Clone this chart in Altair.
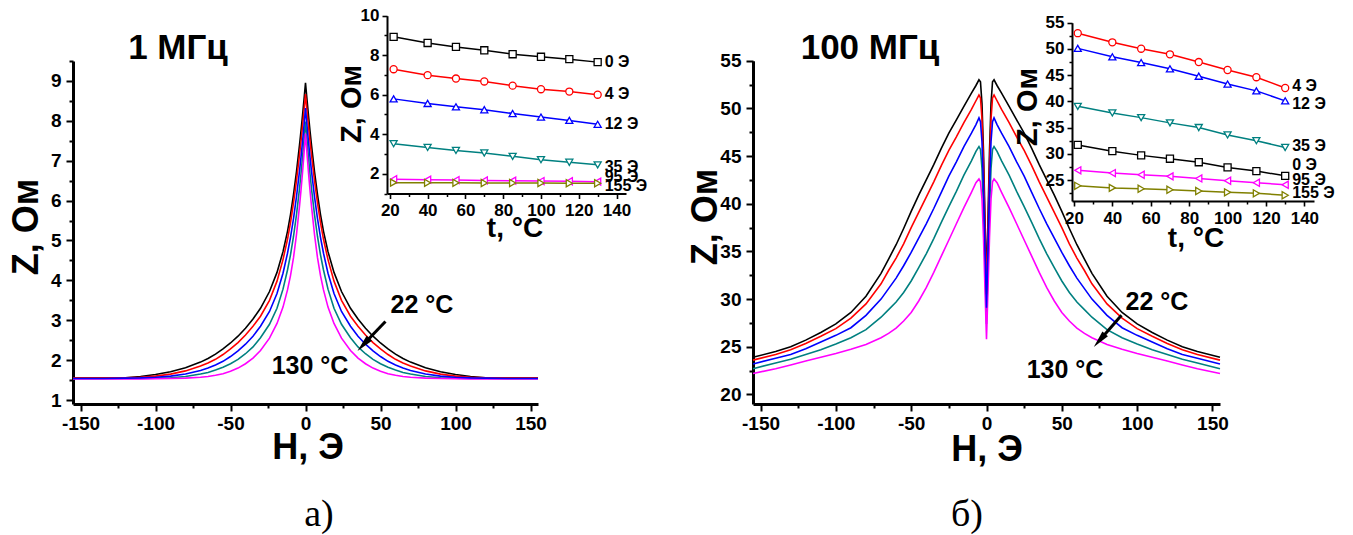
import altair as alt
import pandas as pd

# ---------------- DATA ----------------
TEMPS = ["22 °C", "40 °C", "70 °C", "100 °C", "130 °C"]
TEMP_COLORS = ["#000000", "#ff0000", "#0000ff", "#008080", "#ff00ff"]

# 1 MHz: Z (Ohm) vs H (Oe); right branch values, curves symmetric in H
H_1MHZ = [0, 1, 2, 3, 4, 6, 8, 10, 12, 15, 19, 24, 30, 35, 40, 45, 50, 55, 60, 65, 70, 80, 90, 100, 110, 120, 135, 155]
Z_1MHZ = {
    "22 °C": [8.95, 8.53, 8.13, 7.75, 7.39, 6.73, 6.15, 5.65, 5.23, 4.72, 4.2, 3.72, 3.3, 3.03, 2.8, 2.6, 2.43, 2.28, 2.15, 2.04, 1.95, 1.81, 1.71, 1.64, 1.59, 1.56, 1.55, 1.55],
    "40 °C": [8.67, 8.25, 7.86, 7.49, 7.14, 6.5, 5.94, 5.45, 5.03, 4.52, 3.98, 3.5, 3.1, 2.85, 2.63, 2.44, 2.28, 2.14, 2.02, 1.93, 1.85, 1.73, 1.65, 1.6, 1.57, 1.56, 1.55, 1.55],
    "70 °C": [8.32, 7.88, 7.47, 7.09, 6.74, 6.1, 5.55, 5.08, 4.68, 4.18, 3.67, 3.22, 2.85, 2.6, 2.4, 2.23, 2.09, 1.97, 1.88, 1.8, 1.74, 1.65, 1.6, 1.57, 1.555, 1.55, 1.54, 1.54],
    "100 °C": [7.98, 7.52, 7.08, 6.67, 6.3, 5.65, 5.1, 4.64, 4.26, 3.78, 3.3, 2.9, 2.56, 2.33, 2.16, 2.02, 1.91, 1.82, 1.75, 1.69, 1.65, 1.59, 1.56, 1.55, 1.54, 1.54, 1.54, 1.54],
    "130 °C": [7.68, 7.18, 6.7, 6.26, 5.86, 5.15, 4.57, 4.12, 3.76, 3.33, 2.92, 2.55, 2.24, 2.05, 1.91, 1.8, 1.72, 1.66, 1.62, 1.59, 1.57, 1.55, 1.54, 1.535, 1.53, 1.53, 1.53, 1.53],
}

# 100 MHz: Z (Ohm) vs H (Oe); right branch values, curves symmetric in H
H_100MHZ = [0, 1, 2, 3, 4, 5, 7, 10, 15, 20, 25, 30, 35, 40, 45, 50, 55, 60, 65, 70, 80, 90, 100, 110, 120, 130, 140, 155]
Z_100MHZ = {
    "22 °C": [31.7, 38.5, 45.5, 50.5, 52.8, 53.0, 52.4, 51.6, 50.2, 48.8, 47.4, 45.8, 44.1, 42.5, 40.9, 39.2, 37.4, 35.7, 34.2, 32.7, 30.3, 28.6, 27.4, 26.5, 25.7, 25.0, 24.5, 23.9],
    "40 °C": [30.5, 37.3, 44.1, 48.9, 51.1, 51.4, 50.8, 49.9, 48.5, 47.0, 45.6, 44.0, 42.3, 40.7, 39.1, 37.5, 35.8, 34.3, 33.0, 31.6, 29.5, 28.0, 26.9, 26.1, 25.35, 24.7, 24.2, 23.6],
    "70 °C": [29.1, 35.5, 41.9, 46.5, 48.6, 49.0, 48.3, 47.4, 46.0, 44.4, 42.9, 41.2, 39.5, 37.9, 36.4, 34.9, 33.5, 32.2, 31.1, 30.0, 28.3, 27.0, 26.2, 25.5, 24.8, 24.2, 23.8, 23.2],
    "100 °C": [27.4, 33.4, 39.4, 43.7, 45.7, 46.0, 45.5, 44.5, 43.0, 41.3, 39.7, 38.05, 36.35, 34.75, 33.3, 31.9, 30.7, 29.7, 28.9, 28.1, 26.8, 25.95, 25.3, 24.7, 24.2, 23.7, 23.3, 22.7],
    "130 °C": [25.8, 31.0, 36.5, 40.5, 42.3, 42.6, 42.2, 41.2, 39.6, 37.9, 36.2, 34.5, 32.8, 31.2, 29.8, 28.6, 27.7, 26.95, 26.4, 25.95, 25.25, 24.75, 24.3, 23.9, 23.5, 23.1, 22.7, 22.2],
}

# Insets: Z vs temperature t for several fields H
T_INSET = [22, 40, 55, 70, 85, 100, 115, 130]
SERIES = ["0 Э", "4 Э", "12 Э", "35 Э", "95 Э", "155 Э"]
SERIES_COLORS = ["#000000", "#ff0000", "#0000ff", "#008080", "#ff00ff", "#808000"]
SERIES_SHAPES = ["square", "circle", "triangle-up", "triangle-down", "triangle-left", "triangle-right"]
Z_INSET_1MHZ = {
    "0 Э": [8.93, 8.62, 8.42, 8.25, 8.05, 7.92, 7.8, 7.65],
    "4 Э": [7.29, 6.99, 6.82, 6.67, 6.46, 6.28, 6.16, 6.0],
    "12 Э": [5.79, 5.56, 5.39, 5.24, 5.05, 4.87, 4.7, 4.5],
    "35 Э": [3.52, 3.33, 3.18, 3.05, 2.88, 2.71, 2.58, 2.45],
    "95 Э": [1.72, 1.7, 1.68, 1.66, 1.65, 1.63, 1.62, 1.6],
    "155 Э": [1.55, 1.54, 1.54, 1.53, 1.53, 1.53, 1.52, 1.52],
}
Z_INSET_100MHZ = {
    "0 Э": [31.7, 30.5, 29.7, 29.06, 28.4, 27.4, 26.7, 25.8],
    "4 Э": [53.0, 51.26, 50.04, 48.97, 47.5, 45.98, 44.6, 42.55],
    "12 Э": [50.1, 48.5, 47.4, 46.2, 44.8, 43.3, 42.0, 40.1],
    "35 Э": [39.05, 37.8, 36.9, 35.9, 35.0, 33.6, 32.5, 31.2],
    "95 Э": [26.85, 26.33, 26.0, 25.7, 25.3, 24.86, 24.48, 24.1],
    "155 Э": [23.9, 23.5, 23.34, 23.15, 22.9, 22.65, 22.46, 22.1],
}
# label anchor values (Z) for the series names at the right end of the insets
LABEL_Z_1MHZ = [7.66, 6.05, 4.53, 2.36, 1.85, 1.40]
LABEL_Z_100MHZ = [27.9, 42.9, 39.5, 31.5, 25.0, 22.5]

# arrows (H, Z): start and head
ARROW_1MHZ = {"H0": [53.3], "Z0": [2.97], "H1": [38.6], "Z1": [2.39]}
ARROW_100MHZ = {"H0": [89.6], "Z0": [28.3], "H1": [75.0], "Z1": [25.67]}

# ---------------- STYLE / LAYOUT ----------------
FONT = "Liberation Sans"
W, H = 1353, 535
L_MAIN = dict(xd=[-155, 155], xr=[73, 538], yd=[0.9, 9.5], yr=[404, 61])
R_MAIN = dict(xd=[-155, 155], xr=[753, 1220], yd=[19, 55], yr=[404, 60.7])
L_INS = dict(xd=[18.5, 145], xr=[387, 626], yd=[1, 10], yr=[193.5, 15.7])
R_INS = dict(xd=[19, 145], xr=[1072, 1314], yd=[21, 55], yr=[201, 22.7])


def sc(d, r):
    return alt.Scale(domain=d, range=r, nice=False, zero=False)


def major_axis(orient, offset, values, fs, tick=7, dom=3, tw=2, pad=4):
    return alt.Axis(orient=orient, offset=offset, values=values, title=None, grid=False,
                    tickSize=tick, tickWidth=tw, tickColor="black", domainColor="black",
                    domainWidth=dom, labelFont=FONT, labelFontSize=fs, labelFontWeight="bold",
                    labelColor="black", labelPadding=pad, labelFlush=False, labelOverlap=False,
                    labelExpr="'' + datum.value")


def minor_axis(orient, offset, values, tick=4, tw=2):
    return alt.Axis(orient=orient, offset=offset, values=values, title=None, grid=False,
                    labels=False, domain=False, tickSize=tick, tickWidth=tw, tickColor="black")


def main_df(hgrid, series):
    rows = []
    for t, vals in series.items():
        for h, z in zip(hgrid, vals):
            rows.append({"H": h, "Z": z, "T": t})
            if h != 0:
                rows.append({"H": -h, "Z": z, "T": t})
    return pd.DataFrame(rows).sort_values(["T", "H"]).reset_index(drop=True)


def inset_df(series):
    rows = []
    for s, vals in series.items():
        for t, z in zip(T_INSET, vals):
            rows.append({"t": t, "Z": z, "S": s})
    return pd.DataFrame(rows)


def panel_main(df, g, xvals, xminor, yvals, yminor, fs=19):
    xo = g["yr"][0] - H
    yo = -g["xr"][0]
    lines = alt.Chart(df).mark_line(strokeWidth=1.6).encode(
        x=alt.X("H:Q", scale=sc(g["xd"], g["xr"]), axis=major_axis("bottom", xo, xvals, fs, pad=3)),
        y=alt.Y("Z:Q", scale=sc(g["yd"], g["yr"]), axis=major_axis("left", yo, yvals, fs, pad=5)),
        color=alt.Color("T:N", scale=alt.Scale(domain=TEMPS, range=TEMP_COLORS), legend=None),
    )
    minor = alt.Chart(df).mark_line(strokeOpacity=0).encode(
        x=alt.X("H:Q", scale=sc(g["xd"], g["xr"]), axis=minor_axis("bottom", xo, xminor)),
        y=alt.Y("Z:Q", scale=sc(g["yd"], g["yr"]), axis=minor_axis("left", yo, yminor)),
        detail="T:N",
    )
    return [lines, minor]


def panel_inset(series, label_z, g, xvals, xminor, yvals, yminor, fs=17):
    df = inset_df(series)
    xo = g["yr"][0] - H
    yo = -g["xr"][0]
    lines = alt.Chart(df).mark_line(strokeWidth=1.5).encode(
        x=alt.X("t:Q", scale=sc(g["xd"], g["xr"]), axis=major_axis("bottom", xo, xvals, fs, tick=5, dom=2, tw=1.6, pad=4)),
        y=alt.Y("Z:Q", scale=sc(g["yd"], g["yr"]), axis=major_axis("left", yo, yvals, fs, tick=5, dom=2, tw=1.6, pad=3)),
        color=alt.Color("S:N", scale=alt.Scale(domain=SERIES, range=SERIES_COLORS), legend=None),
    )
    minor = alt.Chart(df).mark_line(strokeOpacity=0).encode(
        x=alt.X("t:Q", scale=sc(g["xd"], g["xr"]), axis=minor_axis("bottom", xo, xminor, tick=3, tw=1.5)),
        y=alt.Y("Z:Q", scale=sc(g["yd"], g["yr"]), axis=minor_axis("left", yo, yminor, tick=3, tw=1.5)),
        detail="S:N",
    )
    pts = alt.Chart(df).mark_point(filled=True, fill="white", strokeWidth=1.3, size=50, opacity=1).encode(
        x=alt.X("t:Q", scale=sc(g["xd"], g["xr"]), axis=None),
        y=alt.Y("Z:Q", scale=sc(g["yd"], g["yr"]), axis=None),
        stroke=alt.Stroke("S:N", scale=alt.Scale(domain=SERIES, range=SERIES_COLORS), legend=None),
        shape=alt.Shape("S:N", scale=alt.Scale(domain=SERIES, range=SERIES_SHAPES), legend=None),
    )
    lab_df = pd.DataFrame({"t": [T_INSET[-1]] * len(SERIES), "Z": label_z, "S": SERIES})
    labs = alt.Chart(lab_df).mark_text(align="left", baseline="middle", dx=7, font=FONT,
                                       fontSize=16, fontWeight="bold", color="black").encode(
        x=alt.X("t:Q", scale=sc(g["xd"], g["xr"]), axis=None),
        y=alt.Y("Z:Q", scale=sc(g["yd"], g["yr"]), axis=None),
        text="S:N",
    )
    return [lines, minor, pts, labs]


def arrow(a, g, angle):
    df = pd.DataFrame(a)
    shaft = alt.Chart(df).mark_rule(strokeWidth=3, color="black").encode(
        x=alt.X("H0:Q", scale=sc(g["xd"], g["xr"]), axis=None),
        y=alt.Y("Z0:Q", scale=sc(g["yd"], g["yr"]), axis=None),
        x2="H1:Q", y2="Z1:Q",
    )
    head = alt.Chart(df).mark_point(shape="M0,-1L0.42,1L-0.42,1Z", size=300, filled=True,
                                    color="black", opacity=1, angle=angle).encode(
        x=alt.X("H1:Q", scale=sc(g["xd"], g["xr"]), axis=None),
        y=alt.Y("Z1:Q", scale=sc(g["yd"], g["yr"]), axis=None),
    )
    return [shaft, head]


def txt(label, x, y, size, angle=0, weight="bold", font=FONT):
    return alt.Chart(pd.DataFrame({"s": [label]})).mark_text(
        font=font, fontSize=size, fontWeight=weight, angle=angle, align="center",
        baseline="middle", color="black").encode(x=alt.value(x), y=alt.value(y), text="s:N")


XV = [-150, -100, -50, 0, 50, 100, 150]
XM = [-125, -75, -25, 25, 75, 125]

layers = []
layers += panel_main(main_df(H_1MHZ, Z_1MHZ), L_MAIN, XV, XM,
                     [1, 2, 3, 4, 5, 6, 7, 8, 9], [1.5, 2.5, 3.5, 4.5, 5.5, 6.5, 7.5, 8.5, 9.5])
layers += panel_main(main_df(H_100MHZ, Z_100MHZ), R_MAIN, XV, XM,
                     [20, 25, 30, 35, 40, 45, 50, 55], [22.5, 27.5, 32.5, 37.5, 42.5, 47.5, 52.5])
layers += panel_inset(Z_INSET_1MHZ, LABEL_Z_1MHZ, L_INS, [20, 40, 60, 80, 100, 120, 140],
                      [30, 50, 70, 90, 110, 130], [2, 4, 6, 8, 10], [1, 3, 5, 7, 9])
layers += panel_inset(Z_INSET_100MHZ, LABEL_Z_100MHZ, R_INS, [20, 40, 60, 80, 100, 120, 140],
                      [30, 50, 70, 90, 110, 130], [25, 30, 35, 40, 45, 50, 55],
                      [22.5, 27.5, 32.5, 37.5, 42.5, 47.5, 52.5])
layers += arrow(ARROW_1MHZ, L_MAIN, 223)
layers += arrow(ARROW_100MHZ, R_MAIN, 221)

layers += [
    txt("1 МГц", 178, 48, 35),
    txt("100 МГц", 870, 48, 35),
    txt("Z, Ом", 27, 227, 36, angle=270),
    txt("Z, Ом", 706, 217, 36, angle=270),
    txt("H, Э", 308, 448, 36),
    txt("H, Э", 987, 450, 36),
    txt("Z, Ом", 352, 104, 29, angle=270),
    txt("t, °C", 515, 229, 28),
    txt("Z, Ом", 1028, 107, 29, angle=270),
    txt("t, °C", 1196, 239, 28),
    txt("22 °C", 422, 305, 25),
    txt("130 °C", 310, 366, 25),
    txt("22 °C", 1157, 302, 25),
    txt("130 °C", 1065, 370, 25),
    txt("а)", 319, 515, 38, weight="normal", font="Liberation Serif"),
    txt("б)", 967, 515, 38, weight="normal", font="Liberation Serif"),
]

chart = alt.layer(*layers).resolve_scale(
    x="independent", y="independent", color="independent", stroke="independent", shape="independent"
).properties(
    width=W, height=H, autosize=alt.AutoSizeParams(type="none"), padding=0, background="white"
).configure_view(stroke=None)

chart.save("out.html", embed_options={"renderer": "svg", "actions": False})
